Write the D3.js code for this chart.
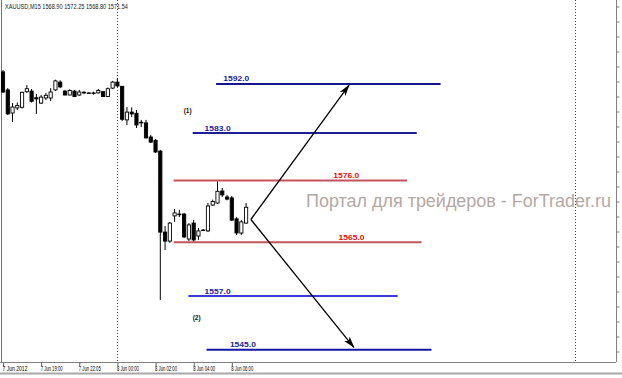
<!DOCTYPE html>
<html>
<head>
<meta charset="utf-8">
<script src="https://cdn.jsdelivr.net/npm/d3@7"></script>
<style>
  body { margin: 0; background: #fff; }
  svg { display: block; font-family: "Liberation Sans", Arial, sans-serif; }
</style>
</head>
<body>
<script>
// XAUUSD M15, 7-8 Jun 2012 (bar index 0 = first visible bar)
const opens = [1594.1, 1591.1, 1587.25, 1588.1, 1588.2, 1590.8, 1590.9, 1589.8, 1588.9, 1589.75,
  1589.75, 1591.1, 1592.4, 1590.9, 1590.25, 1590.9, 1590.25, 1590.7, 1590.6, 1590.5,
  1590.6, 1590.8, 1590.0, 1591.4, 1592.4, 1591.7, 1586.1, 1587.4, 1587.2, 1585.7,
  1585.6, 1583.25, 1582.7, 1580.9, 1567.4, 1565.9, 1570.1, 1570.4, 1570.4, 1566.25,
  1568.9, 1566.75, 1567.75, 1567.6, 1571.9, 1572.25, 1574.25, 1573.25, 1573.1, 1569.6,
  1567.25, 1568.90];
const highs = [1594.4, 1591.4, 1588.9, 1589.0, 1590.8, 1591.9, 1591.25, 1590.4, 1590.25, 1590.6,
  1591.4, 1592.8, 1592.7, 1591.1, 1591.2, 1591.1, 1591.1, 1590.9, 1590.7, 1590.8,
  1591.25, 1590.9, 1591.5, 1592.6, 1593.0, 1591.75, 1588.25, 1588.2, 1587.75, 1586.1,
  1586.1, 1583.6, 1582.9, 1581.1, 1568.4, 1569.1, 1571.25, 1571.1, 1570.6, 1568.9,
  1569.4, 1568.1, 1567.9, 1572.25, 1572.8, 1575.9, 1574.75, 1573.6, 1573.4, 1569.9,
  1569.4, 1572.25];
const lows = [1590.6, 1586.9, 1585.75, 1587.75, 1588.0, 1590.6, 1589.0, 1587.1, 1588.75, 1589.4,
  1589.25, 1590.9, 1591.4, 1590.2, 1590.2, 1589.9, 1590.1, 1590.4, 1590.5, 1590.3,
  1590.5, 1589.9, 1589.9, 1591.25, 1591.6, 1585.9, 1585.25, 1586.6, 1584.75, 1584.9,
  1583.0, 1582.25, 1580.6, 1556.1, 1564.4, 1565.6, 1569.1, 1569.9, 1566.4, 1565.9,
  1565.75, 1566.1, 1567.6, 1567.4, 1571.75, 1572.1, 1573.25, 1572.7, 1569.25, 1566.9,
  1566.9, 1568.80];
const closes = [1590.75, 1587.1, 1588.25, 1588.5, 1590.7, 1591.3, 1589.2, 1589.6, 1589.9, 1590.2,
  1590.75, 1592.6, 1591.6, 1590.25, 1591.0, 1590.0, 1590.75, 1590.6, 1590.6, 1590.6,
  1591.0, 1590.0, 1591.3, 1592.4, 1591.75, 1586.2, 1587.4, 1587.1, 1585.25, 1585.6,
  1583.1, 1582.4, 1580.75, 1567.4, 1565.9, 1568.9, 1570.6, 1570.3, 1566.6, 1568.6,
  1566.1, 1567.6, 1567.75, 1571.75, 1572.5, 1574.2, 1573.6, 1572.9, 1569.4, 1567.25,
  1569.1, 1571.54];

const title = "XAUUSD,M15  1568.90 1572.25 1568.80 1571.54";
const timeTickBars = [0, 8, 16, 24, 32, 40, 48];
const timeLabels = ["7 Jun 2012", "7 Jun 19:00", "7 Jun 22:05", "8 Jun 00:00", "8 Jun 02:00", "8 Jun 04:00", "8 Jun 06:00"];
const separatorBars = [24, 120];
const priceTicks = d3.range(1547.5, 1605.1, 2.5);

// horizontal levels: label, price where drawn, first/last bar
const levelLabels = ["1592.0", "1583.0", "1576.0", "1565.0", "1557.0", "1545.0"];
const levelPrices = [1592.1, 1583.9, 1576.0, 1565.7, 1556.75, 1547.8];
const levelFrom = [44.7, 39.8, 35.8, 35.8, 38.9, 42.7];
const levelTo = [91.8, 86.8, 84.8, 87.8, 82.8, 89.9];
const levelLabelBar = [46.2, 42.3, 69.3, 70.4, 42.3, 47.6];

// scenario arrows (bar, price)
const arrowStart = [52, 1569.5];
const arrowEnds = [[72.6, 1591.9], [73.6, 1548.2]];
const scenarioLabels = ["(1)", "(2)"];
const scenarioPos = [[37.9, 1587.2], [39.8, 1552.8]];

const watermark = "Портал для трейдеров - ForTrader.ru";

const W = 622, H = 378;
const plotBottom = 362, plotRight = 616;

const x = d3.scaleLinear().domain([0, 120]).range([3, 575]);
const y = d3.scaleLinear().domain([1545, 1605]).range([366.5, 6.5]);

const svg = d3.select("body").append("svg").attr("width", W).attr("height", H);

// frame
svg.append("line").attr("x1", 1.5).attr("x2", 1.5).attr("y1", 0).attr("y2", plotBottom)
  .attr("stroke", "#707070");
svg.append("line").attr("x1", 0).attr("x2", W).attr("y1", 373.5).attr("y2", 373.5)
  .attr("stroke", "#a8a8a8").attr("stroke-width", 2);

// day separators
svg.selectAll(".sep").data(separatorBars).enter().append("line")
  .attr("x1", (d) => Math.round(x(d)) + 0.5)
  .attr("x2", (d) => Math.round(x(d)) + 0.5)
  .attr("y1", 0).attr("y2", plotBottom)
  .attr("stroke", "#404040").attr("stroke-dasharray", "1,2");

// time axis
const xAxis = d3.axisBottom(x).tickValues(timeTickBars)
  .tickFormat((d, i) => timeLabels[i]).tickSize(4).tickSizeOuter(0);
const gx = svg.append("g").attr("transform", `translate(0,${plotBottom + 0.5})`).call(xAxis);
gx.select(".domain").attr("d", `M0,0H${plotRight}`).attr("stroke", "#808080");
gx.selectAll(".tick line").attr("stroke", "#606060");
gx.selectAll(".tick text")
  .attr("text-anchor", "start").attr("x", -1).attr("y", 3.5).attr("dy", "0.75em")
  .attr("font-size", 6.4).attr("fill", "#000")
  .attr("textLength", (d, i) => (i === 0 ? 25 : 22)).attr("lengthAdjust", "spacingAndGlyphs");

// price axis (cut off at right edge)
const yAxis = d3.axisRight(y).tickValues(priceTicks).tickFormat("").tickSize(3).tickSizeOuter(0);
const gy = svg.append("g").attr("transform", `translate(${plotRight + 0.5},0)`).call(yAxis);
gy.select(".domain").attr("d", `M0,0V${plotBottom}`).attr("stroke", "#808080");
gy.selectAll(".tick line").attr("stroke", "#808080");

// watermark
svg.append("text").attr("x", 306).attr("y", 206.5)
  .attr("font-family", "'Liberation Sans', Arial, sans-serif").attr("font-size", 17.5)
  .attr("textLength", 305).attr("lengthAdjust", "spacingAndGlyphs")
  .attr("fill", "#b5a8a4").text(watermark);

// title
svg.append("text").attr("x", 5).attr("y", 9)
  .attr("font-size", 6.4).attr("fill", "#202020")
  .attr("textLength", 123).attr("lengthAdjust", "spacingAndGlyphs").text(title);

// candles
const bars = d3.range(opens.length);
const candle = svg.append("g").selectAll("g").data(bars).enter().append("g");
candle.append("line")
  .attr("x1", (i) => x(i)).attr("x2", (i) => x(i))
  .attr("y1", (i) => y(highs[i])).attr("y2", (i) => y(lows[i]))
  .attr("stroke", "#000").attr("stroke-width", 1);
candle.append("rect")
  .attr("x", (i) => x(i) - 1.6)
  .attr("width", 3.2)
  .attr("y", (i) => y(Math.max(opens[i], closes[i])))
  .attr("height", (i) => Math.max(0.6, Math.abs(y(opens[i]) - y(closes[i]))))
  .attr("fill", (i) => (closes[i] >= opens[i] ? "#fff" : "#000"))
  .attr("stroke", "#000").attr("stroke-width", 0.9);

// levels
const lineColors = ["#16168c", "#1e1e98", "#c4545c", "#c4545c", "#3a3ad8", "#1414a6"];
const labelColors = ["#1e1e98", "#1e1e98", "#e01010", "#e01010", "#1e1e98", "#1e1e98"];
const lv = d3.range(levelLabels.length);
svg.selectAll(".level").data(lv).enter().append("line")
  .attr("x1", (i) => x(levelFrom[i])).attr("x2", (i) => x(levelTo[i]))
  .attr("y1", (i) => y(levelPrices[i])).attr("y2", (i) => y(levelPrices[i]))
  .attr("stroke", (i) => lineColors[i]).attr("stroke-width", 2);
svg.selectAll(".lvlab").data(lv).enter().append("text")
  .attr("x", (i) => x(levelLabelBar[i]))
  .attr("y", (i) => y(levelPrices[i]) - 2.5)
  .attr("font-size", 7.4).attr("font-weight", "bold")
  .attr("textLength", 26).attr("lengthAdjust", "spacingAndGlyphs")
  .attr("fill", (i) => labelColors[i])
  .text((i) => levelLabels[i]);

// scenario labels
svg.selectAll(".scen").data(scenarioLabels).enter().append("text")
  .attr("x", (d, i) => x(scenarioPos[i][0]))
  .attr("y", (d, i) => y(scenarioPos[i][1]))
  .attr("font-size", 6.5).attr("font-weight", "bold").attr("fill", "#101010")
  .text((d) => d);

// arrows
svg.append("defs").append("marker")
  .attr("id", "head").attr("viewBox", "0 -4 12 8")
  .attr("refX", 11).attr("refY", 0)
  .attr("markerUnits", "userSpaceOnUse")
  .attr("markerWidth", 12).attr("markerHeight", 8)
  .attr("orient", "auto")
  .append("path").attr("d", "M0,-3.5L12,0L0,3.5L3,0Z").attr("fill", "#000");

svg.selectAll(".arrow").data(arrowEnds).enter().append("line")
  .attr("x1", x(arrowStart[0])).attr("y1", y(arrowStart[1]))
  .attr("x2", (d) => x(d[0])).attr("y2", (d) => y(d[1]))
  .attr("stroke", "#000").attr("stroke-width", 1.3)
  .attr("marker-end", "url(#head)");
</script>
</body>
</html>
